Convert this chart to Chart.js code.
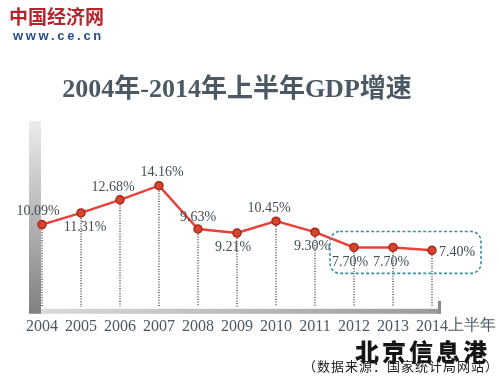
<!DOCTYPE html>
<html><head><meta charset="utf-8">
<script src="https://cdn.jsdelivr.net/npm/chart.js@4/dist/chart.umd.min.js"></script>
<style>
html,body{margin:0;padding:0;background:#fff;}
#wrap{position:relative;width:500px;height:380px;overflow:hidden;}
canvas{position:absolute;left:0;top:0;}
.logo1{position:absolute;left:9px;top:5px;font:bold 19px "Noto Sans CJK SC";color:#b5262c;letter-spacing:0px;line-height:22px;}
.logo2{position:absolute;left:13px;top:28px;font:bold 13px "Liberation Sans";color:#274f8e;letter-spacing:2.7px;line-height:15px;}
.bj{position:absolute;left:355px;top:338px;font:900 24px "Noto Sans CJK SC";color:#151515;line-height:26px;letter-spacing:3px;}
.src{position:absolute;left:303px;top:358px;font:13px "Noto Sans CJK SC";color:#222;line-height:16px;letter-spacing:1px;}
</style></head>
<body><div id="wrap">
<canvas id="c" width="500" height="380"></canvas>
<div class="logo1">中国经济网</div>
<div class="logo2">www.ce.cn</div>
<div class="bj">北京信息港</div>
<div class="src">（数据来源：国家统计局网站）</div>
</div>
<script>
const years = ['2004','2005','2006','2007','2008','2009','2010','2011','2012','2013','2014'];
const growth = [10.09, 11.31, 12.68, 14.16, 9.63, 9.21, 10.45, 9.30, 7.70, 7.70, 7.40];
const valueLabels = ['10.09%','11.31%','12.68%','14.16%','9.63%','9.21%','10.45%','9.30%','7.70%','7.70%','7.40%'];
const lastSuffix = '上半年';
const titleText = '2004年-2014年上半年GDP增速';

// label offsets (style): [dx, dy, align]
const labelPos = [[-4,-13,'center'],[4,14,'center'],[-7,-12,'center'],[3,-13,'center'],[0,-12,'center'],[-4,14,'center'],[-7,-13,'center'],[-3,14,'center'],[-4,15,'center'],[-2,15,'center'],[7,2,'left']];

const decor = {
  id:'decor',
  beforeDatasetsDraw(chart){
    const {ctx, chartArea:a} = chart;
    ctx.save();
    let g = ctx.createLinearGradient(0,a.top,0,a.bottom+4);
    g.addColorStop(0,'#ececec'); g.addColorStop(1,'#828282');
    ctx.fillStyle = g;
    ctx.fillRect(a.left-13, a.top+1, 12, a.bottom - a.top + 6);
    g = ctx.createLinearGradient(a.left,0,a.right+8,0);
    g.addColorStop(0,'#dadada'); g.addColorStop(1,'#9a9a9a');
    ctx.fillStyle = g;
    ctx.fillRect(a.left-1, a.bottom+2, a.right - a.left + 10, 5);
    ctx.fillStyle = '#8a8a8a';
    ctx.fillRect(a.right+6, a.bottom-6, 3, 13);
    const meta = chart.getDatasetMeta(0);
    ctx.strokeStyle = '#7d7d7d';
    ctx.lineWidth = 2;
    ctx.setLineDash([1,1.6]);
    meta.data.forEach(p=>{
      ctx.beginPath(); ctx.moveTo(p.x, p.y+5); ctx.lineTo(p.x, a.bottom); ctx.stroke();
    });
    ctx.restore();
  },
  afterDatasetsDraw(chart){
    const {ctx, chartArea:a} = chart;
    const meta = chart.getDatasetMeta(0);
    const xs = chart.scales.x, ys = chart.scales.y;
    ctx.save();
    const x0 = xs.getPixelForValue(8) - 24, x1 = xs.getPixelForValue(10) + 49;
    const y0 = ys.getPixelForValue(7.70) - 16, y1 = ys.getPixelForValue(7.40) + 23;
    ctx.strokeStyle = '#3d8ea3'; ctx.lineWidth = 1.6; ctx.setLineDash([3,2.2]);
    ctx.beginPath(); ctx.roundRect(x0, y0, x1-x0, y1-y0, 10); ctx.stroke();
    ctx.setLineDash([]);
    ctx.font = '14px "Liberation Serif"';
    ctx.fillStyle = '#414d57';
    ctx.textBaseline = 'middle';
    meta.data.forEach((p,i)=>{
      const [dx,dy,al] = labelPos[i];
      ctx.textAlign = al;
      ctx.fillText(valueLabels[i], p.x+dx, p.y+dy);
    });
    const lx = xs.getPixelForValue(years.length-1);
    ctx.font = '16px "Liberation Serif"';
    ctx.fillStyle = '#4a5863';
    ctx.textAlign = 'left';
    ctx.fillText(lastSuffix, lx+16, a.bottom+19);
    ctx.restore();
  }
};

new Chart(document.getElementById('c'), {
  type:'line',
  data:{labels:years, datasets:[{
    data:growth,
    borderColor:'#e8413a', borderWidth:2.5,
    pointRadius:4, pointHoverRadius:4,
    pointBackgroundColor:'#d5462c', pointBorderColor:'#a8281e', pointBorderWidth:1.5,
    tension:0, clip:false
  }]},
  options:{
    responsive:false, animation:false,
    layout:{padding:{left:42,right:68,top:0,bottom:34}},
    plugins:{
      legend:{display:false}, tooltip:{enabled:false},
      title:{display:true, text:titleText, color:'#4a5963',
        font:{family:'"Liberation Serif", "Noto Sans CJK SC"', size:26, weight:'bold'},
        padding:{top:75,bottom:14}}
    },
    scales:{
      x:{offset:false, grid:{display:false, drawTicks:false}, border:{display:false},
        ticks:{color:'#4a5863', padding:10, maxRotation:0, autoSkip:false,
          font:{family:'"Liberation Serif"', size:16}}},
      y:{display:false, min:1.5, max:21}
    }
  },
  plugins:[decor]
});
</script>
</body></html>
